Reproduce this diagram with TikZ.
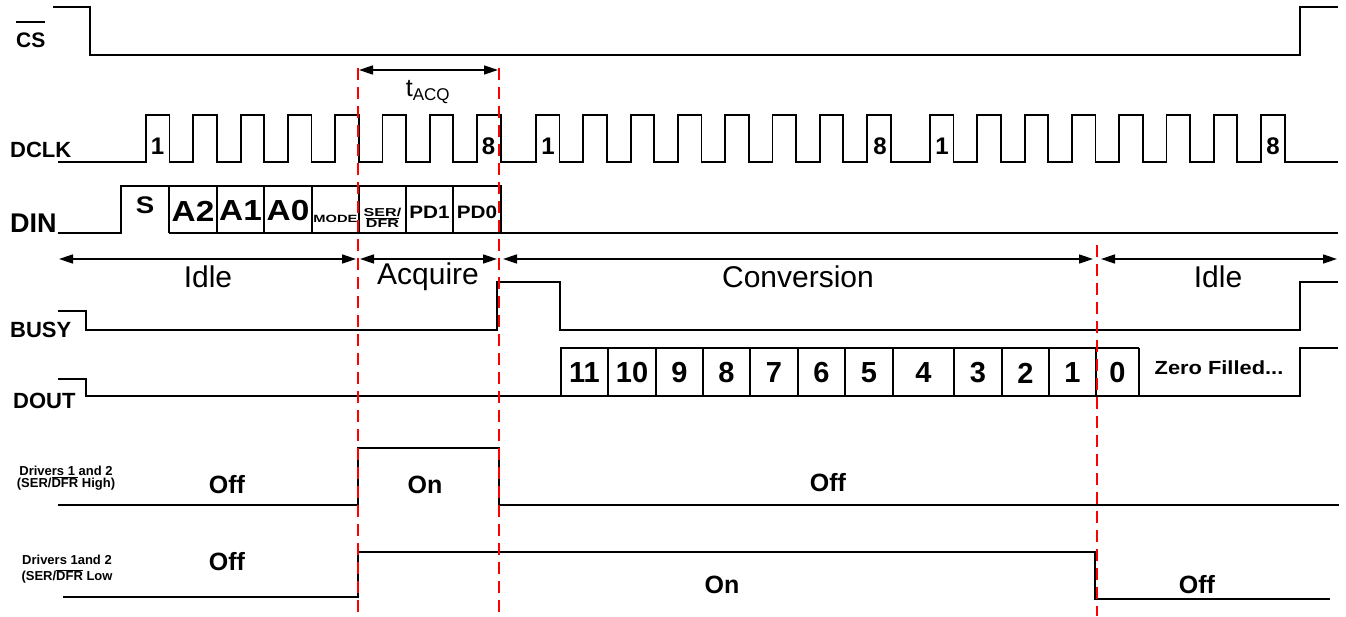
\documentclass[tikz,border=0pt]{standalone}
\usepackage{fontspec}
\setmainfont{Liberation Sans}
\newfontfamily\largo[FakeStretch=1.15]{Liberation Sans}
\newfontfamily\largob[FakeStretch=1.4]{Liberation Sans}
\usetikzlibrary{arrows.meta, positioning, calc}
\newcommand{\fs}[1]{\fontsize{#1}{#1}\selectfont}
\newsavebox{\barbox}
\newcommand{\barra}[2][0.74em]{\sbox{\barbox}{#2}\rlap{\rule[#1]{\wd\barbox}{0.09em}}\usebox{\barbox}}
\tikzset{
  sig/.style = {draw=black, line width=1.8pt},
  sigf/.style = {draw=black, line width=1.3pt},
  lver/.style = {draw=red, line width=1.6pt, dash pattern=on 12pt off 7pt},
  fase/.style = {{Triangle[length=14pt,width=9pt]}-{Triangle[length=14pt,width=9pt]},
    line width=1.6pt},
  nome/.style = {font=\bfseries\fs{22}, anchor=west, inner sep=0pt},
  ciclo/.style = {font=\bfseries\fs{24}, inner sep=0pt},
  bit/.style = {font=\bfseries\fs{29}, inner sep=0pt},
  rfase/.style = {font=\fs{30}, inner sep=0pt},
  est/.style = {font=\bfseries\fs{25}, inner sep=0pt},
  drv/.style = {font=\bfseries\fs{13}, align=center, inner sep=0pt}
}
\begin{document}
\begin{tikzpicture}[x=1pt, y=-1pt]
  \useasboundingbox (0,0) rectangle (1346,616);
  % CS
  \node [nome, anchor=base west, font=\bfseries\fs{21}] (ncs) at (16,47) {\barra[1.15em]{CS}};
  \draw [sig] (53,7) -- (90,7) -- (90,55) -- (1300,55) -- (1300,7) -- (1338,7);
  % DCLK
  \node [nome] (nclk) at (10,150) {DCLK};
  \draw [sig] (58,162)
    \foreach \s in {146, 536, 930} {
      \foreach \i in {0,...,7} {
        -- ({\s+47.3*\i},162) -- ({\s+47.3*\i},115)
        -- ({\s+23.5+47.3*\i},115) -- ({\s+23.5+47.3*\i},162)
      }
    } -- (1338,162);
  \foreach \x/\t [count=\k] in {157.5/1, 488.5/8, 548/1, 880/8, 942/1, 1273/8}
    \node [ciclo] (k\k) at (\x,146) {\t};
  % DIN
  \node [nome, font=\bfseries\fs{27}] (ndin) at (10,223) {DIN};
  \draw [sig] (58,233) -- (121,233) -- (121,186) -- (501,186) -- (501,233);
  \draw [sig] (169,233) -- (1338,233);
  \foreach \x in {169,217,264,312,359,406,453} \draw [sig] (\x,186) -- (\x,233);
  \node [font=\bfseries\largo\fs{24}, inner sep=0pt] (dS) at (145,205) {S};
  \foreach \x/\t in {193/A2, 240.5/A1, 288/A0}
    \node [bit, font=\bfseries\largo\fs{29}] (d\t) at (\x,211) {\t};
  \node [font=\bfseries\largob\fs{10.5}, inner sep=0pt] (dmode) at (335.5,219) {MODE};
  \node [font=\bfseries\largob\fontsize{11.5}{11.5}\selectfont, align=center, inner sep=0pt]
    (dser) at (382.5,218) {SER/\\\barra{DFR}};
  \foreach \x/\t in {429.5/PD1, 477/PD0}
    \node [font=\bfseries\largo\fs{18}, inner sep=0pt] (d\t) at (\x,212) {\t};
  % fases
  \foreach \n/\a/\b in {ida/59/356, acq/360/497, conv/503/1093, idb/1101/1337} {
    \coordinate (\n-l) at (\a,259);
    \coordinate (\n-r) at (\b,259);
    \draw [fase] (\n-l) -- (\n-r);
  }
  \node [rfase] (tida) at (208,277) {Idle};
  \node [rfase] (tacq) at (428,277) {Acquire};
  \node [rfase] (tconv) at (798,277) {Conversion};
  \node [rfase] (tidb) at (1218,277) {Idle};
  % BUSY
  \node [nome] (nbusy) at (10,330) {BUSY};
  \draw [sig] (58,311) -- (86,311) -- (86,330) -- (497,330) -- (497,282) -- (560,282)
    -- (560,330) -- (1300,330) -- (1300,282) -- (1338,282);
  % DOUT
  \node [nome] (ndout) at (13,401) {DOUT};
  \draw [sig] (58,379) -- (86,379) -- (86,396) -- (1300,396) -- (1300,348) -- (1338,348);
  \draw [sig] (561,396) -- (561,348) -- (1139,348);
  \foreach \x in {608,656,703,750,798,845,893,954,1002,1049,1096,1139}
    \draw [sig] (\x,348) -- (\x,396);
  \foreach \x/\t in {584.5/11, 632/10, 679.5/9, 726.5/8, 774/7, 821.5/6, 869/5,
    923.5/4, 978/3, 1025.5/2, 1072.5/1, 1117.5/0}
    \node [bit] (b\t) at (\x,373) {\t};
  \node [font=\bfseries\largo\fs{19}, inner sep=0pt] (zf) at (1219,368) {Zero Filled...};
  % drivers
  \node [drv, font=\bfseries\fontsize{13}{12.5}\selectfont] (ndr1) at (66,478)
    {Drivers 1 and 2\\(SER/\barra{DFR} High)};
  \draw [sig] (58,505) -- (358,505) -- (358,448) -- (499,448) -- (499,505) -- (1339,505);
  \node [est] (e1) at (227,485) {Off};
  \node [est] (e2) at (425,485) {On};
  \node [est] (e3) at (828,483) {Off};
  \node [drv, font=\bfseries\fontsize{13}{16}\selectfont] (ndr2) at (67,569)
    {Drivers 1and 2\\(SER/\barra{DFR} Low};
  \draw [sigf] (63,597) -- (358,597) -- (358,552) -- (1095,552) -- (1095,599) -- (1330,599);
  \node [est] (e4) at (227,562) {Off};
  \node [est] (e5) at (722,585) {On};
  \node [est] (e6) at (1197,585) {Off};
  % tACQ e linhas vermelhas
  \coordinate (ra-t) at (358,68);
  \coordinate (ra-b) at (358,616);
  \coordinate (rb-t) at (499,68);
  \coordinate (rb-b) at (499,616);
  \coordinate (rc-t) at (1097,245);
  \coordinate (rc-b) at (1097,616);
  \foreach \r in {ra, rb, rc} \draw [lver] (\r-t) -- (\r-b);
  \coordinate (tq-l) at (359,70);
  \coordinate (tq-r) at (498,70);
  \draw [fase] (tq-l) -- (tq-r);
  \node [font=\fs{25}, inner sep=0pt] (tacqn) at (428,92) {t\textsubscript{\fs{17}ACQ}};
\end{tikzpicture}
\end{document}
